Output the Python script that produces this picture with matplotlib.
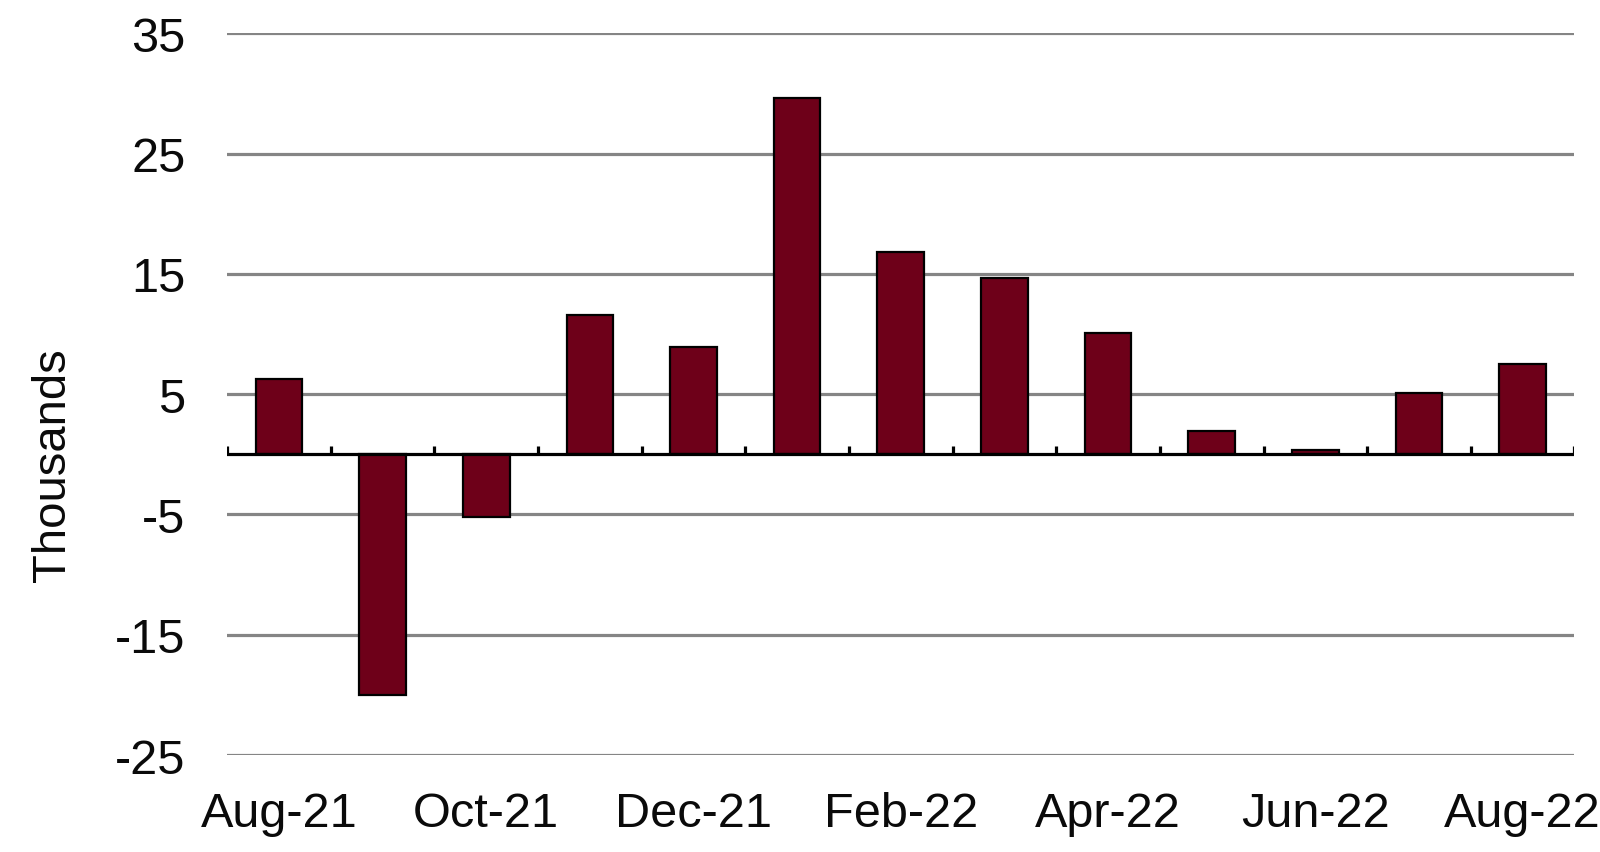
import matplotlib
matplotlib.use("Agg")
import matplotlib.pyplot as plt
import numpy as np

months = ["Aug-21", "Sep-21", "Oct-21", "Nov-21", "Dec-21", "Jan-22", "Feb-22",
          "Mar-22", "Apr-22", "May-22", "Jun-22", "Jul-22", "Aug-22"]
values = [6.3, -20.0, -5.2, 11.6, 8.9, 29.6, 16.8, 14.7, 10.1, 1.9, 0.4, 5.1, 7.5]
yticks = [-25, -15, -5, 5, 15, 25, 35]

plt.rcParams['font.family'] = ['Liberation Sans', 'DejaVu Sans']

fig = plt.figure(figsize=(16, 8.53), dpi=100)
ax = fig.add_axes([0.142, 0.1137, 0.842, 0.846])

x = np.arange(len(months))
ax.bar(x, values, width=0.45, color="#6E0019", edgecolor="black", linewidth=1.6, zorder=3)

ax.set_ylim(-25, 35)
ax.set_xlim(-0.5, len(months) - 0.5)
ax.set_yticks(yticks)
ax.set_yticklabels([str(t) for t in yticks])
for t in yticks:
    ax.axhline(t, color="#858585", linewidth=2.3, zorder=1)

# zero axis with boundary tick marks
ax.axhline(0, color="black", linewidth=2.3, zorder=4)
bounds = np.arange(len(months) + 1) - 0.5
ax.vlines(bounds, 0, 0.7, color="black", linewidth=2.3, zorder=4)

ax.set_xticks(x[::2])
ax.set_xticklabels(months[::2])
ax.tick_params(axis='both', length=0, labelsize=35, colors="#0a0a0a")
ax.tick_params(axis='x', pad=26)
ax.tick_params(axis='y', pad=30)
for lab in ax.get_yticklabels():
    lab.set_va('center_baseline')
xl = ax.get_xticklabels()
xl[-1].set_x(x[-1])
xl[-1].set_ha('center')

for s in ax.spines.values():
    s.set_visible(False)

ax.set_ylabel("Thousands", fontsize=34, color="#0a0a0a")
ax.yaxis.set_label_coords(-0.113, 0.403)

fig.savefig("out.png", dpi=100, facecolor="white")
